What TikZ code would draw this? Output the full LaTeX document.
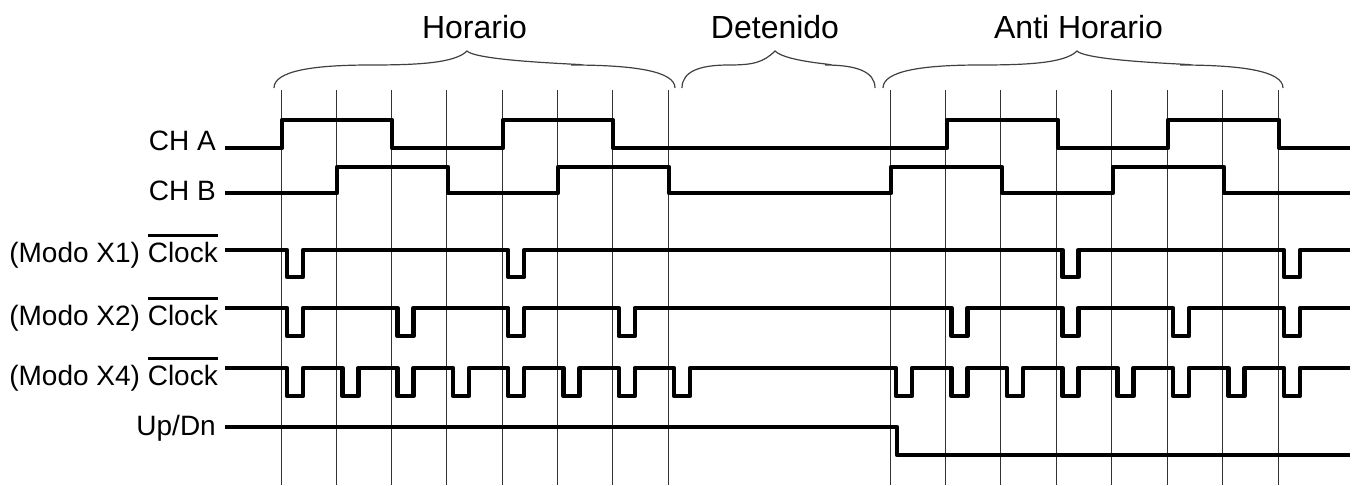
\documentclass[tikz,border=0pt]{standalone}
\usepackage{fontspec}
\setmainfont{Liberation Sans}
\newcommand\ovclock{\setbox0\hbox{Clock}\rlap{\raisebox{25.5pt}{\rule{\wd0}{2.4pt}}}\box0}
\newcommand\mybrace[3]{%
  \draw[bracestyle] (#1,88) .. controls (#1,71) and ({#1+0.2*(#2-#1)},65) .. ({(#1+#2)/2},65)
    .. controls ({#2-0.25*(#2-#1)},65) and ({#2-12},63) .. (#2,51)
    .. controls ({#2+12},63) and ({#3-0.25*(#3-#2)},65) .. ({(#2+#3)/2},65)
    .. controls ({#3-0.2*(#3-#2)},65) and (#3,71) .. (#3,88);}
\tikzset{
  wave/.style={line width=4.5pt, line join=round},
  gridline/.style={line width=1pt, black!80},
  bracestyle/.style={line width=1.2pt, black!75},
  lbl/.style={anchor=base east, inner sep=0pt, font=\fontsize{28}{32}\selectfont},
  ttl/.style={anchor=base, inner sep=0pt, font=\fontsize{32}{36}\selectfont}
}
\begin{document}
\begin{tikzpicture}[x=1pt,y=-1pt]
\useasboundingbox (0,0) rectangle (1357,485);
% grid
\foreach \g in {281,336.3,391.6,446.9,502.2,557.5,612.8,668.1,890,945.4,1000.9,1056.3,1111.7,1167.1,1222.6,1278}
  \draw[gridline] (\g,90) -- (\g,485);
% braces and titles
\mybrace{274}{467}{675}
\mybrace{682}{775}{875}
\mybrace{883}{1077}{1283}
\node[ttl] (hor) at (474.5,38) {Horario};
\node[ttl] (det) at (775,38) {Detenido};
\node[ttl] (anti) at (1078.5,38) {Anti Horario};
% labels
\node[lbl] (la) at (216,150) {CH A};
\node[lbl] (lb) at (216,200) {CH B};
\node[lbl] (l1) at (218,262) {(Modo X1) \ovclock};
\node[lbl] (l2) at (218,325) {(Modo X2) \ovclock};
\node[lbl] (l4) at (218,385) {(Modo X4) \ovclock};
\node[lbl] (lu) at (216,435) {Up/Dn};
% CH A
\draw[wave] (225,148) -- (282,148) -- (282,120) -- (392,120) -- (392,148) -- (503,148) -- (503,120)
  -- (613,120) -- (613,148) -- (947,148) -- (947,120) -- (1058,120) -- (1058,148) -- (1168,148)
  -- (1168,120) -- (1279,120) -- (1279,148) -- (1350,148);
% CH B
\draw[wave] (225,193) -- (337,193) -- (337,167) -- (448,167) -- (448,193) -- (558,193) -- (558,167)
  -- (669,167) -- (669,193) -- (891,193) -- (891,167) -- (1002,167) -- (1002,193) -- (1113,193)
  -- (1113,167) -- (1224,167) -- (1224,193) -- (1350,193);
% X1
\draw[wave] (225,250) \foreach \g in {281,502.2,1056.3,1278} { -- (\g+6,250) -- (\g+6,277) -- (\g+22,277) -- (\g+22,250) } -- (1350,250);
% X2
\draw[wave] (225,308) \foreach \g in {281,391.6,502.2,612.8,945.4,1056.3,1167.1,1278} { -- (\g+6,308) -- (\g+6,336) -- (\g+22,336) -- (\g+22,308) } -- (1350,308);
% X4
\draw[wave] (225,368) \foreach \g in {281,336.3,391.6,446.9,502.2,557.5,612.8,668.1,890,945.4,1000.9,1056.3,1111.7,1167.1,1222.6,1278} { -- (\g+6,368) -- (\g+6,396) -- (\g+22,396) -- (\g+22,368) } -- (1350,368);
% Up/Dn
\draw[wave] (225,427) -- (897,427) -- (897,455) -- (1350,455);
\end{tikzpicture}
\end{document}
